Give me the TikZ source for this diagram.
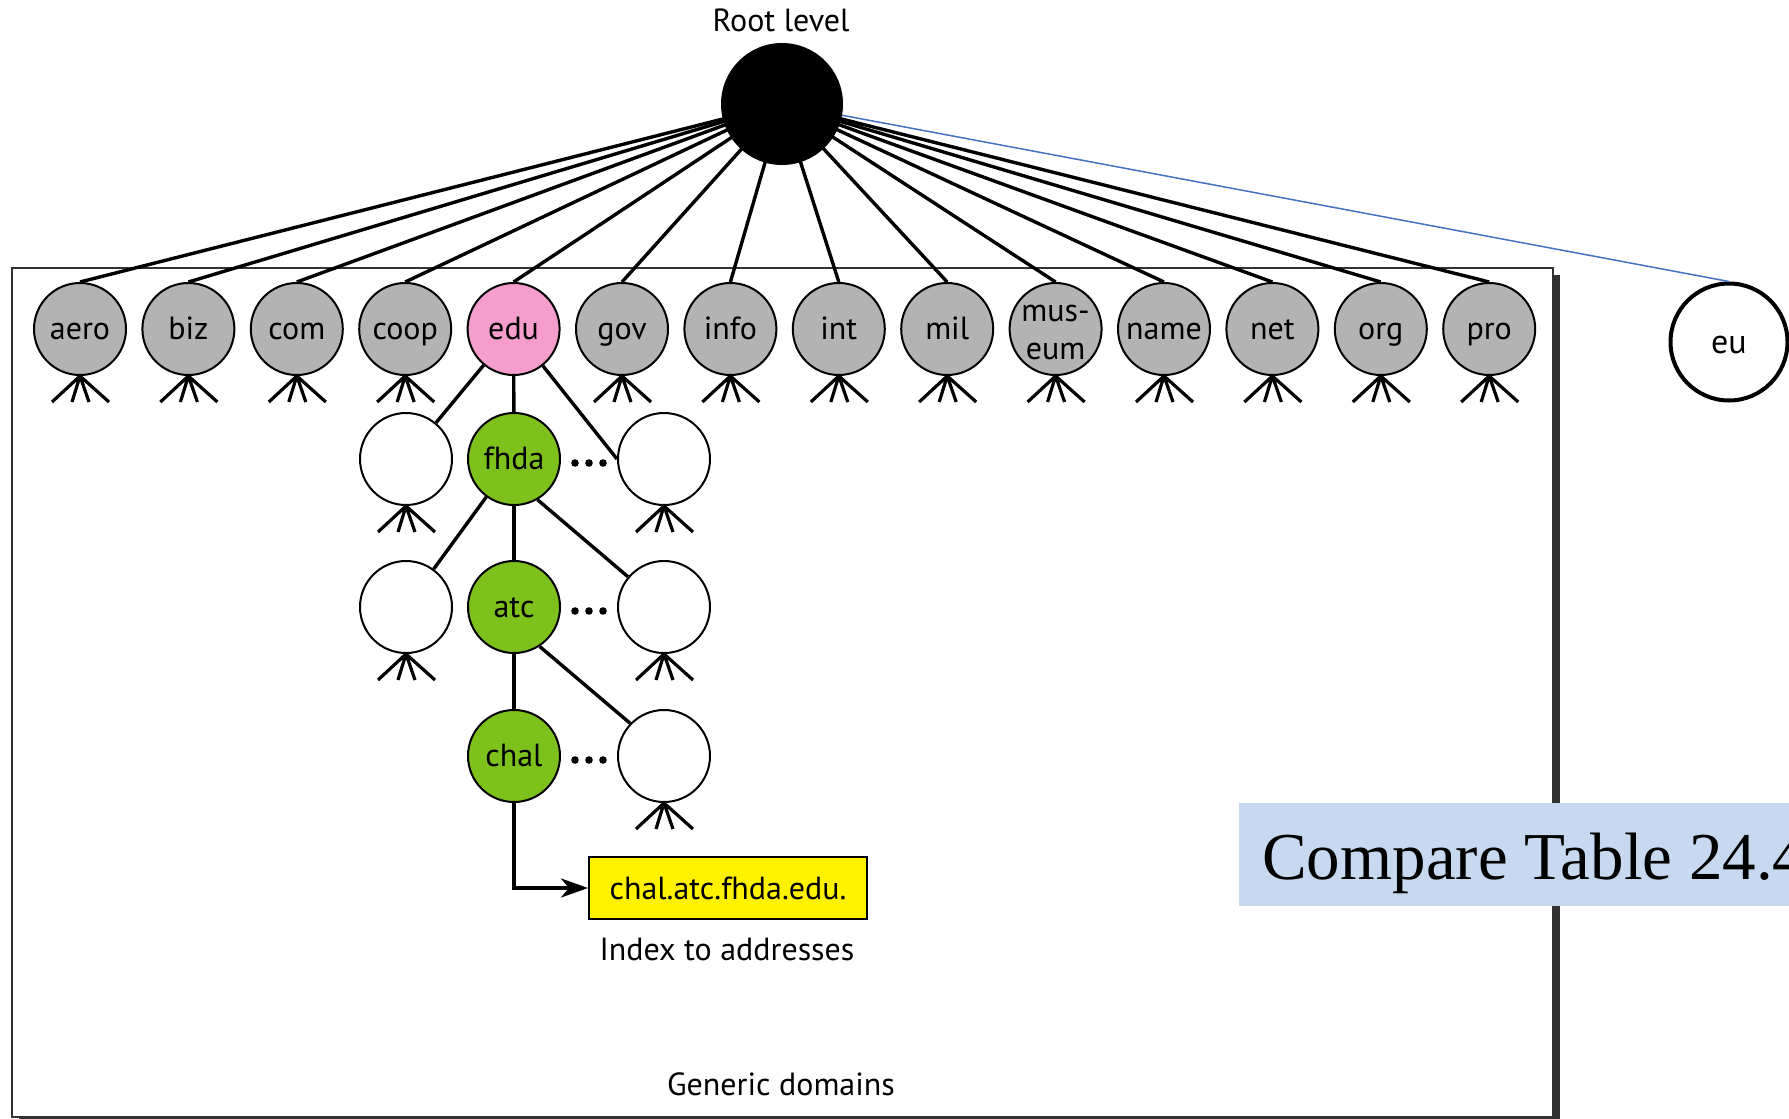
\documentclass[tikz,border=0pt]{standalone}
\usepackage{fontspec}
\setmainfont{PT Sans}
\newfontfamily\notefont{Liberation Serif}
\usetikzlibrary{arrows.meta}
\definecolor{domgray}{RGB}{179,179,179}
\definecolor{edupink}{RGB}{245,157,205}
\definecolor{leafgreen}{RGB}{127,193,28}
\definecolor{notebg}{RGB}{198,217,240}
\definecolor{eulink}{RGB}{68,114,196}
\definecolor{framegray}{RGB}{50,50,50}
% four-pronged fan below a node: further subdomains
\newcommand\drawfan[1]{%
  \draw[fanline] (#1.south) -- ++(-28,26) (#1.south) -- ++(-8,26)
                 (#1.south) -- ++(9,26)   (#1.south) -- ++(29,26);}
\begin{document}
\begin{tikzpicture}[x=1pt,y=-1pt,
  dom/.style={circle,draw,line width=2pt,minimum size=92pt,inner sep=0pt,
              align=center,font=\fontsize{32}{38}\selectfont},
  oneline/.style={text height=25pt,text depth=4pt},
  twoline/.style={yshift=-3pt},
  link/.style={line width=3.4pt},
  fanline/.style={line width=3.2pt},
  lbl/.style={font=\fontsize{32}{38}\selectfont,inner sep=0pt}]
\useasboundingbox (0,0) rectangle (1789,1119);
\begin{scope}
\clip (0,0) rectangle (1789,1119);

% frame of the generic domains, with its shadow
\fill[framegray] (19,275) rectangle (1560,1126);
\draw[framegray,line width=1.8pt,fill=white] (12,268) rectangle (1553,1117);
\node[lbl] (generic) at (781,1084) {Generic domains};

% root of the tree
\coordinate (rootc) at (782,104);
\node[lbl] (rootlabel) at (781,20) {Root level};

% top-level generic domains
\foreach \n/\t/\c/\s [count=\i from 0] in {
  aero/aero/domgray/oneline, biz/biz/domgray/oneline, com/com/domgray/oneline,
  coop/coop/domgray/oneline, edu/edu/edupink/oneline, gov/gov/domgray/oneline,
  info/info/domgray/oneline, int/int/domgray/oneline, mil/mil/domgray/oneline,
  museum/{mus-\\eum}/domgray/oneline, name/name/domgray/oneline,
  net/net/domgray/oneline, org/org/domgray/oneline, pro/pro/domgray/oneline}{
  \node[dom,\s,fill=\c] (\n) at (80+\i*108.4,329) {};
  \draw[link] (rootc) -- (\n.north);
}
% labels of the top-level domains
\foreach \n/\t/\s in {aero/aero/oneline, biz/biz/oneline, com/com/oneline,
  coop/coop/oneline, edu/edu/oneline, gov/gov/oneline, info/info/oneline,
  int/int/oneline, mil/mil/oneline, museum/{mus-\\eum}/twoline,
  name/name/oneline, net/net/oneline, org/org/oneline, pro/pro/oneline}{
  \node[lbl,align=center,\s] (\n-text) at (\n) {\t};
}
\foreach \n in {aero,biz,com,coop,gov,info,int,mil,museum,name,net,org,pro}{%
  \drawfan{\n}}

% country domain
\node[circle,draw,line width=4pt,minimum size=117pt,inner sep=0pt,
      text height=25pt,text depth=2pt,
      font=\fontsize{34}{38}\selectfont] (eu) at (1729,342) {eu};
\draw[eulink,line width=1.5pt] (rootc) -- (eu.north);

\node[circle,fill=black,minimum size=122pt,inner sep=0pt] (root) at (rootc) {};

% subtree below edu
\node[dom,fill=white]             (lw2)  at (406,459) {};
\node[dom,oneline,fill=leafgreen] (fhda) at (514,459) {fhda};
\node[dom,fill=white]             (rw2)  at (664,459) {};
\node[dom,fill=white]             (lw3)  at (406,607) {};
\node[dom,oneline,fill=leafgreen] (atc)  at (514,607) {atc};
\node[dom,fill=white]             (rw3)  at (664,607) {};
\node[dom,oneline,fill=leafgreen] (chal) at (514,756) {chal};
\node[dom,fill=white]             (rw4)  at (664,756) {};
\foreach \n in {lw2,rw2,lw3,rw3,rw4}{\drawfan{\n}}

\draw[link] (edu) -- (lw2);
\draw[link] (edu) -- (fhda);
\draw[link] (edu) -- (rw2.west);
\draw[link] (fhda) -- (lw3);
\draw[link] (fhda) -- (atc);
\draw[link] (fhda.-60) -- (rw3.140);
\draw[link] (atc) -- (chal);
\draw[link] (atc.-57) -- (rw4.136);

% ellipses between siblings
\foreach \y in {463,611,760}{
  \foreach \x in {575,589,603}{
    \fill (\x,\y) circle[radius=3.8pt];}}

% resolved name
\node[draw,fill=yellow,line width=2pt,minimum width=278pt,minimum height=62pt,
      inner sep=0pt,anchor=west,font=\fontsize{32}{38}\selectfont]
  (addr) at (588,888) {chal.atc.fhda.edu.};
\draw[link,-{Stealth[length=27pt,width=19pt,inset=8pt]}] (chal.south) |- (addr.west);
\node[lbl] (index) at (727,949) {Index to addresses};

% note
\fill[notebg] (1239,803) rectangle (1800,906);
\node[anchor=base west,inner sep=0pt,font=\notefont\fontsize{67}{70}\selectfont]
  (note) at (1262,879) {Compare Table 24.4};
\end{scope}
\end{tikzpicture}
\end{document}
